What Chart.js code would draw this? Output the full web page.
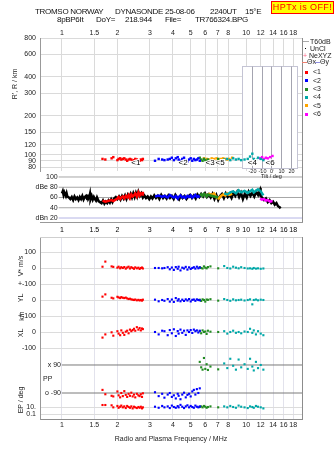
<!DOCTYPE html>
<html>
<head>
<meta charset="utf-8">
<script src="https://cdn.jsdelivr.net/npm/chart.js@4.4.1/dist/chart.umd.min.js"></script>
<style>
  body { margin: 0; width: 335px; height: 451px; overflow: hidden; background: #fff; position: relative;
         font-family: "Liberation Sans", Arial, sans-serif; color: #111; }
  canvas { position: absolute; left: 0; }
  .t { position: absolute; white-space: pre; font-size: 8px; line-height: 10px; letter-spacing: -0.3px; }
  .s { position: absolute; white-space: pre; font-size: 7px; line-height: 8px; color: #222; }
  .m { position: absolute; white-space: pre; font-size: 7px; line-height: 8px; color: #000; transform: translateX(-50%); z-index: 5; }
  .r { position: absolute; white-space: pre; font-size: 7px; line-height: 8px; color: #222;
       transform: translate(-50%, -50%) rotate(-90deg); }
  .sq { position: absolute; width: 3px; height: 3px; }
  .ln { position: absolute; height: 1px; }
  #hptx { position: absolute; left: 271px; top: 1px; width: 61px; height: 11px; background: #ffff00;
          border: 1px solid #ff0000; color: #ff0000; font-size: 9px; line-height: 11px; text-align: center;
          letter-spacing: 0.4px; }
</style>
</head>
<body>
<canvas id="cMid" width="335" height="52" style="top:171px"></canvas>
<canvas id="cTop" width="335" height="182" style="top:0px"></canvas>
<canvas id="cLow" width="335" height="229" style="top:222px"></canvas>

<div class="t" style="left:35px;top:7px">TROMSO NORWAY</div>
<div class="t" style="left:115px;top:7px">DYNASONDE</div>
<div class="t" style="left:165px;top:7px">25-08-06</div>
<div class="t" style="left:210px;top:7px">2240UT</div>
<div class="t" style="left:245px;top:7px">15°E</div>
<div class="t" style="left:57px;top:14.5px">8pBP6It</div>
<div class="t" style="left:96px;top:14.5px">DoY=</div>
<div class="t" style="left:125px;top:14.5px">218.944</div>
<div class="t" style="left:165px;top:14.5px">File=</div>
<div class="t" style="left:195px;top:14.5px">TR766324.BPG</div>
<div id="hptx">HPTx is OFF!</div>

<div class="r" style="left:15px;top:84px">R', R / km</div>
<div class="r" style="left:21px;top:266px">V* m/s</div>
<div class="r" style="left:21px;top:298px">YL</div>
<div class="r" style="left:22px;top:316px">km</div>
<div class="r" style="left:21px;top:333px">XL</div>
<div class="r" style="left:21px;top:400px">EP / deg</div>

<!-- legend -->
<div class="ln" style="left:303px;top:41px;width:6px;background:#aaa"></div>
<div class="s" style="left:310px;top:37.5px">T60dB</div>
<div class="sq" style="left:305px;top:48px;width:1px;height:1px;background:#000"></div>
<div class="s" style="left:310px;top:45px">UnCl</div>
<div class="s" style="left:303px;top:51.5px;color:#ff6688">+</div>
<div class="s" style="left:309px;top:51.5px">NeXYZ</div>
<div class="ln" style="left:302px;top:62px;width:5px;background:#f08070"></div>
<div class="s" style="left:307px;top:58px">Θx</div>
<div class="ln" style="left:315px;top:62px;width:5px;background:#9090e0"></div>
<div class="s" style="left:320px;top:58px">Θy</div>
<div id="legendGroups"></div>
<div id="midAxis"></div>

<script>
// ---- data ----
const topTicks = [1, 1.5, 2, 3, 4, 5, 6, 7, 8, 10, 12, 14, 16, 18];
const midTicks = [1, 1.5, 2, 3, 4, 5, 6, 7, 8, 9, 10, 12, 14, 16, 18];
const heightTicks = [80, 90, 100, 120, 150, 200, 300, 400, 600, 800];
const dbLevels = [20, 40, 60, 80, 100];
const dbLabels = ['dBn 20', '40', '60', 'dBe 80', '100'];
const tiltTicks = [-20, -10, 0, 10, 20];

const groupNames = ['<1', '<2', '<3', '<4', '<5', '<6'];
const groupColors = ['#ff0000', '#0000ff', '#228b22', '#00a8a8', '#ffa500', '#ff00ff'];
// where the group tags sit on the ionogram (MHz)
const tagFreqs = [2.52, 4.55, 6.37, 10.8, 7.22, 13.5];
const tagHeight = 87;

// echo frequency (MHz), virtual height (km), amplitude (dB)
const f1 = [1.66, 1.72, 1.86, 1.9, 2.0, 2.03, 2.07, 2.1, 2.14, 2.18, 2.22, 2.26, 2.3, 2.34, 2.38, 2.42, 2.46, 2.5, 2.55, 2.6, 2.64, 2.68, 2.72, 2.75];
const h1 = [93, 92, 94, 96, 91, 93, 94, 92, 93, 94, 92, 90, 92, 93, 92, 90, 91, 93, 92, 91, 90, 92, 91, 93];
const a1 = [54, 52, 55, 53, 58, 61, 57, 60, 62, 58, 63, 60, 65, 59, 66, 62, 64, 68, 62, 70, 64, 68, 66, 71];

const f2 = [3.2, 3.35, 3.5, 3.6, 3.75, 3.85, 3.95, 4.05, 4.15, 4.25, 4.3, 4.4, 4.5, 4.6, 4.7, 4.8, 4.9, 5.0, 5.1, 5.2, 5.3, 5.4, 5.5, 5.6];
const h2 = [90, 93, 92, 91, 92, 93, 95, 91, 94, 96, 92, 90, 93, 95, 91, 89, 92, 94, 90, 93, 91, 92, 94, 90];
const a2 = [62, 64, 61, 63, 60, 65, 62, 60, 63, 58, 61, 64, 60, 62, 59, 63, 61, 64, 60, 62, 65, 61, 63, 60];

const f3 = [5.6, 5.7, 5.8, 5.9, 6.0, 6.1, 6.2, 6.4, 7.05];
const h3 = [95, 92, 90, 93, 91, 89, 92, 90, 93];
const a3 = [64, 66, 63, 67, 65, 62, 66, 64, 60];

const f4 = [7.6, 7.9, 8.2, 8.5, 8.8, 9.1, 9.4, 9.8, 10.2, 10.5, 10.8, 11.0, 11.3, 11.6, 12.0, 12.4];
const h4 = [92, 93, 91, 94, 92, 93, 91, 92, 93, 97, 102, 93, 92, 95, 93, 91];
const a4 = [68, 66, 70, 72, 68, 74, 70, 73, 69, 72, 75, 70, 73, 76, 72, 64];

const f5 = [5.9, 6.1, 6.3, 6.5, 6.7, 6.9, 7.1, 7.3, 7.5, 7.7, 7.9, 8.1, 8.4];
const h5 = [94, 93, 92, 94, 93, 94, 92, 93, 94, 93, 92, 93, 95];
const a5 = [66, 64, 67, 65, 68, 60, 58, 63, 66, 64, 68, 65, 67];

const f6 = [11.9, 12.2, 12.5, 12.8, 13.1, 13.5, 13.9];
const h6 = [94, 96, 93, 95, 94, 96, 98];
const a6 = [58, 56, 57, 54, 55, 52, 53];

// noise / echo amplitude trace (dB)
const blackF = [1.00, 1.01, 1.02, 1.03, 1.05, 1.06, 1.07, 1.09, 1.11, 1.13, 1.15, 1.17, 1.19, 1.21, 1.23, 1.25, 1.27, 1.29,
  1.31, 1.33, 1.35, 1.37, 1.38, 1.39, 1.41, 1.42, 1.43, 1.45, 1.47, 1.49, 1.51, 1.53, 1.55, 1.58, 1.61, 1.64, 1.67, 1.70,
  1.73, 1.76, 1.79, 1.82, 1.85, 1.88, 1.92, 1.96, 2.00, 2.04, 2.08, 2.12, 2.16, 2.20, 2.24, 2.28, 2.32, 2.36,
  2.40, 2.44, 2.48, 2.52, 2.56, 2.60, 2.65, 2.70, 2.75, 2.80, 2.86, 2.92, 2.98, 3.04, 3.10, 3.17, 3.24, 3.31,
  3.38, 3.46, 3.54, 3.62, 3.70, 3.78, 3.86, 3.95, 4.04, 4.13, 4.22, 4.32, 4.42, 4.52, 4.63, 4.74, 4.85, 4.96,
  5.08, 5.20, 5.32, 5.44, 5.57, 5.70, 5.84, 5.98, 6.12, 6.27, 6.42, 6.57, 6.73, 6.89, 7.05, 7.22, 7.39, 7.57,
  7.75, 7.94, 8.13, 8.33, 8.53, 8.73, 8.94, 9.16, 9.38, 9.60, 9.83, 10.07, 10.31, 10.56, 10.81, 11.07, 11.34,
  11.61, 11.89, 11.95, 12.0, 12.2, 12.5, 12.8, 13.1, 13.4, 13.7, 14.0, 14.3, 14.6, 14.9, 15.2, 15.4];
const blackDb = [68, 72, 65, 70, 63, 68, 62, 60, 57, 61, 55, 62, 57, 60, 55, 61, 57, 63, 56,
  61, 63, 57, 66, 58, 62, 67, 57, 63, 56, 61, 57, 54, 60, 53, 51, 49, 54, 48,
  52, 49, 54, 50, 56, 51, 58, 61, 57, 62, 56, 63, 58, 64, 57, 65, 60, 67,
  60, 68, 61, 69, 62, 71, 63, 68, 60, 64, 59, 62, 57, 62, 58, 64, 59, 63,
  57, 65, 59, 63, 58, 64, 59, 63, 57, 65, 60, 56, 64, 59, 63, 57, 62, 65,
  59, 64, 58, 66, 61, 67, 62, 68, 61, 66, 60, 67, 57, 65, 55, 63, 67, 59,
  68, 61, 66, 59, 69, 63, 71, 61, 69, 57, 67, 60, 71, 63, 69, 62, 71,
  65, 74, 79, 63, 60, 55, 58, 51, 55, 49, 52, 46, 49, 43, 41, 39];

// lower panel: V* (m/s), YL (km), XL (km), PP (deg), EP (deg) per echo
const v1 = [8, 40, 10, 7, 2, 8, -2, 5, 0, 6, -4, 3, 8, -3, 5, 0, -5, 4, -2, 2, -6, 0, 3, -3];
const yl1 = [21, 35, 14, 10, 20, 16, 12, 18, 14, 12, 15, 10, 6, 8, 4, 2, 0, 3, -2, 1, -3, 0, -4, 2];
const xl1 = [-35, -15, -2, -23, 5, -10, -20, 10, -5, -18, 2, 8, -8, 15, 5, 12, 20, 8, 30, 15, 25, 10, 22, 18];
const pp1 = [-70, -98, -108, -112, -80, -105, -118, -90, -110, -78, -102, -115, -95, -108, -88, -112, -100, -118, -95, -105, -110, -98, -115, -92];
const ep1 = [37, 37, 30, 8, 20, 6, 12, 25, 8, 15, 5, 20, 10, 6, 15, 4, 12, 8, 5, 10, 6, 12, 4, 8];

const v2 = [0, 0, -2, 0, 5, -8, 3, -12, 6, -5, 8, -15, 2, -3, 7, -10, 4, -6, 0, 5, -4, 8, -2, 3];
const yl2 = [2, -8, 0, -5, 6, -10, 3, -12, 12, -4, 5, -8, 2, -6, 4, -3, 6, -9, 1, 3, -5, 4, 0, -2];
const xl2 = [0, -15, 8, 5, -20, 12, -8, 17, -25, 6, -10, 15, -5, 8, -18, 10, 0, 12, -6, 15, 5, 10, -3, 8];
const pp2 = [-85, -110, -95, -120, -100, -90, -115, -105, -125, -95, -108, -130, -100, -88, -118, -102, -95, -112, -80, -70, -100, -65, -90, -60];
const ep2 = [12, 6, 20, 8, 15, 5, 25, 10, 6, 18, 8, 40, 12, 5, 15, 30, 8, 20, 10, 6, 25, 12, 8, 15];

const v3 = [5, 0, -3, 10, 2, -2, 6, 10, -2];
const yl3 = [2, -6, 4, 0, -10, 3, 1, 5, -4];
const xl3 = [5, -8, 10, 0, 3, -12, 8, 2, 0];
const pp3 = [110, 75, 60, 135, 65, 95, 58, 80, 62];
const ep3 = [10, 15, 8, 20, 12, 6, 10, 15, 8];

const v4 = [12, 0, -3, 8, 2, -2, 5, 0, -3, -2, -5, 0, -4, -2, -5, -3];
const yl4 = [6, 0, -5, 4, -2, 0, 2, -3, 0, 4, -27, 0, 3, -2, 2, 0];
const xl4 = [5, -10, 0, 8, -5, 0, -8, 3, 0, 20, -5, 10, -15, 5, -10, -20];
const pp4 = [100, 70, 130, 85, 60, 125, 75, 95, 65, 130, 80, 55, 110, 70, 90, 60];
const ep4 = [15, 8, 20, 10, 6, 25, 12, 8, 5, 15, 10, 6, 20, 12, 8, 4];

// ---- layout helpers ----
const FMIN = 0.76, FMAX = 20.1;
const FONT = { family: '"Liberation Sans", Arial, sans-serif', size: 7 };
const GRID = '#dadada';
const insetFreq = [9.48, 18.8], insetHeight = [79.4, 489], tiltRange = [-30, 27];

// lower panel rows share one pixel-like axis (0 = top, 182 = bottom)
const rowV = v => 31 - v * 0.16;
const rowYL = v => 63 - v * 0.16;
const rowXL = v => 95 - v * 0.16;
const rowPP = p => 142 - p * 0.1556;
const rowEP = e => 170 + (1 - Math.log10(e)) * 3.5;

const lowTicks = [
  { value: rowV(100), label: '100' },
  { value: rowV(0), label: '0' },
  { value: rowYL(100), label: '+-100' },
  { value: rowYL(0), label: '0' },
  { value: rowXL(100), label: '+-100' },
  { value: rowXL(0), label: '0' },
  { value: rowXL(-100), label: '-100' },
  { value: rowPP(90), label: '', hide: true },
  { value: rowPP(-90), label: '', hide: true },
  { value: rowEP(10), label: '10.' },
  { value: rowEP(0.1), label: '0.1' }
];

const fs = [f1, f2, f3, f4, f5, f6];
const hs = [h1, h2, h3, h4, h5, h6];
const as = [a1, a2, a3, a4, a5, a6];
const lows = [[v1, yl1, xl1, pp1, ep1], [v2, yl2, xl2, pp2, ep2], [v3, yl3, xl3, pp3, ep3], [v4, yl4, xl4, pp4, ep4]];

Chart.defaults.font.family = FONT.family;
Chart.defaults.color = '#222';

// legend squares
const lg = document.getElementById('legendGroups');
groupNames.forEach((n, i) => {
  const y = 72.3 + i * 8.35;
  lg.insertAdjacentHTML('beforeend',
    `<div class="sq" style="left:305px;top:${(y - 1.5).toFixed(1)}px;background:${groupColors[i]}"></div>` +
    `<div class="s" style="left:313px;top:${(y - 4).toFixed(1)}px">${n.replace('<', '&lt;')}</div>`);
});

function logAxis(ticksList, pad, extra) {
  return Object.assign({
    type: 'logarithmic', min: FMIN, max: FMAX,
    afterBuildTicks: s => { s.ticks = ticksList.map(v => ({ value: v })); },
    ticks: { callback: v => String(v), maxRotation: 0, autoSkip: false, font: FONT, color: '#222', padding: pad }
  }, extra);
}

const rightEdge = {
  id: 'rightEdge',
  afterDraw(c) {
    const a = c.chartArea, ctx = c.ctx;
    const x = Math.round(a.right) + 0.5;
    ctx.save();
    ctx.strokeStyle = '#8c8c8c';
    ctx.lineWidth = 1;
    ctx.beginPath();
    ctx.moveTo(x, a.top);
    ctx.lineTo(x, a.bottom);
    ctx.stroke();
    ctx.restore();
  }
};

// tilt inset drawn inside the ionogram
const insetPlugin = {
  id: 'inset',
  beforeDatasetsDraw(c) {
    const xs = c.scales.x, ys = c.scales.y, ctx = c.ctx;
    const L = Math.round(xs.getPixelForValue(insetFreq[0])) + 0.5;
    const R = Math.round(xs.getPixelForValue(insetFreq[1])) + 0.5;
    const T = Math.round(ys.getPixelForValue(insetHeight[1])) + 0.5;
    const B = Math.round(ys.getPixelForValue(insetHeight[0])) + 0.5;
    ctx.save();
    ctx.fillStyle = '#fff';
    ctx.fillRect(L, T, R - L, B - T);
    ctx.strokeStyle = '#c4c4d4';
    ctx.lineWidth = 1;
    ctx.strokeRect(L, T, R - L, B - T);
    ctx.strokeStyle = '#a4a4b0';
    ctx.fillStyle = '#222';
    ctx.font = '5.5px "Liberation Sans", Arial, sans-serif';
    ctx.textAlign = 'center';
    ctx.textBaseline = 'middle';
    tiltTicks.forEach(t => {
      const px = Math.round(L + (t - tiltRange[0]) / (tiltRange[1] - tiltRange[0]) * (R - L)) + 0.5;
      ctx.beginPath();
      ctx.moveTo(px, T);
      ctx.lineTo(px, B);
      ctx.stroke();
      ctx.fillText(String(t), px, B + 3);
    });
    const mid = L + (0 - tiltRange[0]) / (tiltRange[1] - tiltRange[0]) * (R - L);
    ctx.fillText('Tilt / deg', mid, B + 7.5);
    ctx.restore();
  }
};

const tagPlugin = {
  id: 'tags',
  afterDatasetsDraw(c) {
    const ctx = c.ctx, xs = c.scales.x, ys = c.scales.y;
    ctx.save();
    ctx.font = '8px "Liberation Sans", Arial, sans-serif';
    ctx.textAlign = 'center';
    ctx.textBaseline = 'middle';
    ctx.lineWidth = 2;
    ctx.strokeStyle = '#fff';
    ctx.fillStyle = '#000';
    groupNames.forEach((n, i) => {
      const x = xs.getPixelForValue(tagFreqs[i]), y = ys.getPixelForValue(tagHeight);
      ctx.strokeText(n, x, y);
      ctx.fillText(n, x, y);
    });
    ctx.restore();
  }
};

// ---- top: ionogram ----
new Chart(document.getElementById('cTop'), {
  type: 'scatter',
  data: {
    datasets: fs.map((f, g) => ({
      data: f.map((x, i) => ({ x, y: hs[g][i] })),
      backgroundColor: groupColors[g], pointStyle: 'rect', pointRadius: 1.7, borderWidth: 0
    }))
  },
  options: {
    responsive: false, animation: false, events: [],
    layout: { padding: { left: 0, right: 33, top: 0, bottom: 11 } },
    plugins: { legend: { display: false }, tooltip: { enabled: false } },
    scales: {
      x: logAxis(topTicks, 1, {
        position: 'top',
        afterFit: s => { s.height = 38; },
        grid: { color: GRID, drawTicks: false },
        border: { display: false }
      }),
      y: {
        type: 'logarithmic', min: 75, max: 800,
        afterBuildTicks: s => { s.ticks = heightTicks.map(v => ({ value: v })); },
        afterFit: s => { s.width = 40; },
        ticks: { callback: v => String(v), padding: 4, font: FONT, color: '#222', autoSkip: false },
        grid: { color: GRID, drawTicks: false },
        border: { color: '#999' }
      }
    }
  },
  plugins: [insetPlugin, tagPlugin, rightEdge]
});

// ---- middle: amplitudes ----
const dbLabelPlugin = {
  id: 'dbLabels',
  afterDraw(c) {
    const ctx = c.ctx, xs = c.scales.x, ys = c.scales.y;
    ctx.save();
    ctx.font = '7px "Liberation Sans", Arial, sans-serif';
    ctx.fillStyle = '#222';
    ctx.textAlign = 'right';
    ctx.textBaseline = 'middle';
    dbLevels.forEach((d, i) => ctx.fillText(dbLabels[i], xs.getPixelForValue(0.96) - 1, ys.getPixelForValue(d)));
    ctx.restore();
  }
};

const midSets = [];
dbLevels.forEach(d => midSets.push({
  data: [{ x: 0.96, y: d }, { x: FMAX, y: d }], showLine: true, pointRadius: 0,
  borderColor: d === 20 ? '#b4b4e4' : '#a6a6a6', borderWidth: 1, order: 20
}));
midSets.push({
  data: blackF.map((x, i) => ({ x, y: blackDb[i] })), showLine: true, pointRadius: 0,
  borderColor: '#000', borderWidth: 2.5, order: 10
});
fs.forEach((f, g) => midSets.push({
  data: f.map((x, i) => ({ x, y: as[g][i] })), showLine: true, pointRadius: 0,
  borderColor: groupColors[g], borderWidth: 2.5, order: 1
}));

const midChart = new Chart(document.getElementById('cMid'), {
  type: 'scatter',
  data: { datasets: midSets },
  options: {
    responsive: false, animation: false, events: [],
    layout: { padding: { left: 40, right: 33, top: 0, bottom: 1 } },
    plugins: { legend: { display: false }, tooltip: { enabled: false } },
    scales: {
      x: { type: 'logarithmic', min: FMIN, max: FMAX, display: false },
      y: { type: 'linear', display: false, min: 12.2, max: 111.7 }
    }
  },
  plugins: [dbLabelPlugin, rightEdge]
});

// frequency labels under the amplitude strip, placed with the strip's own x scale
const midX = midChart.scales.x;
const midAxis = document.getElementById('midAxis');
midTicks.forEach(t => {
  midAxis.insertAdjacentHTML('beforeend',
    `<div class="m" style="left:${midX.getPixelForValue(t).toFixed(1)}px;top:225.5px">${t}</div>`);
});

// ---- bottom: drift, location, polarization ----
const lowLabelPlugin = {
  id: 'lowLabels',
  afterDraw(c) {
    const ctx = c.ctx, xs = c.scales.x, ys = c.scales.y, a = c.chartArea;
    ctx.save();
    ctx.strokeStyle = '#999';
    ctx.beginPath();
    ctx.moveTo(a.left, 0.5);
    ctx.lineTo(a.right + 1, 0.5);
    ctx.stroke();
    ctx.strokeStyle = '#cfcfcf';
    ctx.beginPath();
    ctx.moveTo(a.left, a.top + 0.5);
    ctx.lineTo(a.right, a.top + 0.5);
    ctx.stroke();
    ctx.font = '7px "Liberation Sans", Arial, sans-serif';
    ctx.fillStyle = '#222';
    ctx.textBaseline = 'middle';
    ctx.textAlign = 'right';
    const x1 = xs.getPixelForValue(1) - 1;
    ctx.fillText('x 90', x1, ys.getPixelForValue(rowPP(90)));
    ctx.fillText('o -90', x1, ys.getPixelForValue(rowPP(-90)));
    ctx.textAlign = 'left';
    ctx.fillText('PP', a.left + 3, ys.getPixelForValue(rowPP(0)));
    ctx.restore();
  }
};

const lowSets = lows.map((rows, g) => {
  const [v, yl, xl, pp, ep] = rows;
  const pts = [];
  fs[g].forEach((x, i) => {
    pts.push({ x, y: rowV(v[i]) }, { x, y: rowYL(yl[i]) }, { x, y: rowXL(xl[i]) },
             { x, y: rowPP(pp[i]) }, { x, y: rowEP(ep[i]) });
  });
  return { data: pts, backgroundColor: groupColors[g], pointStyle: 'rect', pointRadius: 1.5, borderWidth: 0 };
});
[90, -90].forEach(p => lowSets.push({
  data: [{ x: 1, y: rowPP(p) }, { x: FMAX, y: rowPP(p) }], showLine: true, pointRadius: 0,
  borderColor: '#7a7a7a', borderWidth: 1, order: 20
}));

new Chart(document.getElementById('cLow'), {
  type: 'scatter',
  data: { datasets: lowSets },
  options: {
    responsive: false, animation: false, events: [],
    layout: { padding: { left: 0, right: 33, top: 15, bottom: 0 } },
    plugins: { legend: { display: false }, tooltip: { enabled: false } },
    scales: {
      x: logAxis(topTicks, 2, {
        afterFit: s => { s.height = 32; },
        grid: { color: '#e2e2ec', drawTicks: false },
        border: { color: '#8c8c8c' },
        title: { display: true, text: 'Radio and Plasma Frequency / MHz', font: FONT, color: '#222',
                 padding: { top: 0, bottom: 8 } }
      }),
      y: {
        type: 'linear', reverse: true, min: 0, max: 182,
        afterBuildTicks: s => { s.ticks = lowTicks.map(t => ({ value: t.value })); },
        afterFit: s => { s.width = 40; },
        ticks: { callback: (v, i) => lowTicks[i].label, padding: 4, font: FONT, color: '#222', autoSkip: false },
        grid: { color: c => (lowTicks[c.index] && lowTicks[c.index].hide) ? 'rgba(0,0,0,0)' : '#dcdcdc', drawTicks: false },
        border: { color: '#999' }
      }
    }
  },
  plugins: [lowLabelPlugin, rightEdge]
});
</script>
</body>
</html>
